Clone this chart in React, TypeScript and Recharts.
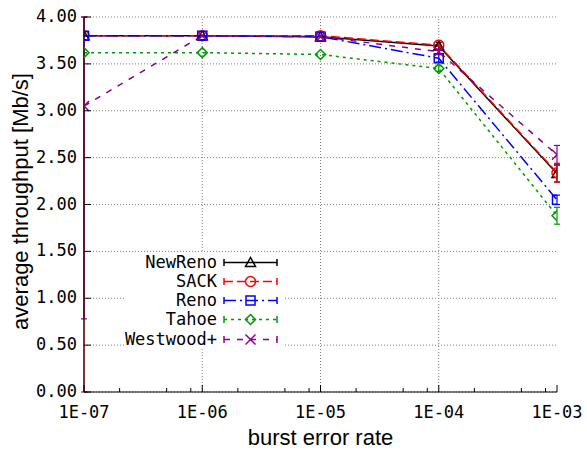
import React from 'react';
import { LineChart, Line, XAxis, YAxis, CartesianGrid, ReferenceLine, ErrorBar, Legend } from 'recharts';

// burst error rates (log x axis)
const rates = [1e-7, 1e-6, 1e-5, 1e-4, 1e-3];
const rateLabels = ['1E-07', '1E-06', '1E-05', '1E-04', '1E-03'];
const minorTicks = [2e-7, 5e-7, 8e-7, 2e-6, 5e-6, 8e-6, 2e-5, 5e-5, 8e-5, 2e-4, 5e-4, 8e-4];
const yTicks = [0, 0.5, 1, 1.5, 2, 2.5, 3, 3.5, 4];

// average throughput [Mb/s]
const newReno = [3.8, 3.8, 3.79, 3.69, 2.33];
const sack = [3.8, 3.8, 3.8, 3.7, 2.34];
const reno = [3.8, 3.8, 3.79, 3.56, 2.05];
const tahoe = [3.62, 3.62, 3.6, 3.45, 1.88];
const westwood = [3.05, 3.8, 3.79, 3.63, 2.53];

// error bars as [below, above]
const newRenoErr = [null, null, null, [0.04, 0.04], [0.09, 0.09]];
const sackErr = [[3.8, 0.2], null, null, [0.05, 0.05], [0.1, 0.1]];
const renoErr = [null, null, null, [0.04, 0.04], [0.05, 0.05]];
const tahoeErr = [null, null, null, [0.03, 0.03], [0.09, 0.09]];
const westwoodErr = [[2.27, 0.95], null, null, [0.03, 0.03], [0.1, 0.1]];

const data = rates.map((rate, i) => ({
  rate,
  newReno: newReno[i],
  sack: sack[i],
  reno: reno[i],
  tahoe: tahoe[i],
  westwood: westwood[i],
  newRenoErr: newRenoErr[i] ?? undefined,
  sackErr: sackErr[i] ?? undefined,
  renoErr: renoErr[i] ?? undefined,
  tahoeErr: tahoeErr[i] ?? undefined,
  westwoodErr: westwoodErr[i] ?? undefined,
}));

const series = [
  { key: 'newReno', name: 'NewReno', color: '#000000', dash: undefined, shape: 'triangle' },
  { key: 'sack', name: 'SACK', color: '#ff0000', dash: '9 4', shape: 'circle' },
  { key: 'reno', name: 'Reno', color: '#0000ff', dash: '12 4 2 4', shape: 'square' },
  { key: 'tahoe', name: 'Tahoe', color: '#009900', dash: '3 4', shape: 'diamond' },
  { key: 'westwood', name: 'Westwood+', color: '#8b008b', dash: '6 7', shape: 'cross' },
];

const MONO = '"DejaVu Sans Mono", monospace';
const SANS = '"Liberation Sans", Arial, sans-serif';
const GRID = '#808080';
const MONO_SIZE = 17;

const markerShape = (shape: string, cx: number, cy: number, color: string) => {
  const common = { fill: 'none', stroke: color, strokeWidth: 1.5 };
  switch (shape) {
    case 'triangle':
      return <polygon points={`${cx},${cy - 5} ${cx - 5},${cy + 4} ${cx + 5},${cy + 4}`} {...common} />;
    case 'circle':
      return <circle cx={cx} cy={cy} r={5} {...common} />;
    case 'square':
      return <rect x={cx - 4.5} y={cy - 4.5} width={9} height={9} {...common} />;
    case 'diamond':
      return <polygon points={`${cx},${cy - 5} ${cx + 5},${cy} ${cx},${cy + 5} ${cx - 5},${cy}`} {...common} />;
    default:
      return (
        <g {...common}>
          <line x1={cx - 5} y1={cy - 5} x2={cx + 5} y2={cy + 5} />
          <line x1={cx - 5} y1={cy + 5} x2={cx + 5} y2={cy - 5} />
        </g>
      );
  }
};

const makeDot = (shape: string, color: string) => (props: any) => {
  const { cx, cy, index } = props;
  if (cx == null || cy == null) return <g key={`${shape}-${index}`} />;
  return <g key={`${shape}-${index}`}>{markerShape(shape, cx, cy, color)}</g>;
};

const isMajor = (v: number) => rates.some((r) => Math.abs(r - v) / r < 1e-6);

const BottomTick = (props: any) => {
  const { x, y, payload } = props;
  const idx = rates.findIndex((r) => Math.abs(r - payload.value) / r < 1e-6);
  const major = idx >= 0;
  return (
    <g>
      <line x1={x} x2={x} y1={y} y2={y - (major ? 7 : 4)} stroke="#000" />
      {major && (
        <text x={x} y={y + 26} textAnchor="middle" fontFamily={MONO} fontSize={MONO_SIZE} fill="#000">
          {rateLabels[idx]}
        </text>
      )}
    </g>
  );
};

const TopTick = (props: any) => {
  const { x, y, payload } = props;
  return <line x1={x} x2={x} y1={y} y2={y + (isMajor(payload.value) ? 7 : 4)} stroke="#000" />;
};

const LeftTick = (props: any) => {
  const { x, y, payload } = props;
  return (
    <g>
      <line x1={x} x2={x + 7} y1={y} y2={y} stroke="#000" />
      <text x={x - 7} y={y + 5} textAnchor="end" fontFamily={MONO} fontSize={MONO_SIZE} fill="#000">
        {payload.value.toFixed(2)}
      </text>
    </g>
  );
};

const RightTick = (props: any) => {
  const { x, y } = props;
  return <line x1={x} x2={x - 7} y1={y} y2={y} stroke="#000" />;
};

const LegendBox = () => (
  <div style={{ background: '#fff', width: 160, height: 97, position: 'relative', fontFamily: MONO, fontSize: MONO_SIZE, color: '#000' }}>
    {series.map((s, i) => (
      <div
        key={s.key}
        style={{ position: 'absolute', left: 0, top: 10 + i * 19.3 - 9.5, height: 19, display: 'flex', alignItems: 'center' }}
      >
        <span style={{ width: 93, textAlign: 'right', lineHeight: '19px' }}>{s.name}</span>
        <svg width={56} height={19} style={{ marginLeft: 6, display: 'block' }}>
          <line x1={1} x2={54} y1={9.5} y2={9.5} stroke={s.color} strokeWidth={1.5} strokeDasharray={s.dash} />
          <line x1={1} x2={1} y1={6} y2={13} stroke={s.color} strokeWidth={1.5} />
          <line x1={54} x2={54} y1={6} y2={13} stroke={s.color} strokeWidth={1.5} />
          {markerShape(s.shape, 27.5, 9.5, s.color)}
        </svg>
      </div>
    ))}
  </div>
);

export default function App() {
  return (
    <div style={{ position: 'absolute', left: 0, top: 0, background: '#fff' }}>
      <LineChart width={587} height={450} data={data} margin={{ top: 17, right: 30, bottom: 0, left: 0 }}>
        <CartesianGrid vertical={false} stroke={GRID} strokeDasharray="1 2" />
        {rates.slice(1, -1).map((r) => (
          <ReferenceLine key={r} x={r} stroke={GRID} strokeDasharray="1 2" />
        ))}
        <XAxis
          dataKey="rate"
          type="number"
          scale="log"
          domain={[1e-7, 1e-3]}
          allowDataOverflow
          ticks={[...rates, ...minorTicks].sort((a, b) => a - b)}
          interval={0}
          tick={<BottomTick />}
          tickSize={0}
          tickMargin={0}
          tickLine={false}
          height={58}
          axisLine={{ stroke: '#000' }}
          label={{
            content: (p: any) => (
              <text x={p.viewBox.x + p.viewBox.width / 2} y={p.viewBox.y + 53} textAnchor="middle" fontFamily={SANS} fontSize={22} fill="#000">
                burst error rate
              </text>
            ),
          }}
        />
        <XAxis
          xAxisId="top"
          orientation="top"
          dataKey="rate"
          type="number"
          scale="log"
          domain={[1e-7, 1e-3]}
          allowDataOverflow
          ticks={[...rates, ...minorTicks].sort((a, b) => a - b)}
          interval={0}
          tick={<TopTick />}
          tickSize={0}
          tickMargin={0}
          tickLine={false}
          height={0}
          axisLine={{ stroke: '#000' }}
        />
        <YAxis
          type="number"
          domain={[0, 4]}
          allowDataOverflow
          ticks={yTicks}
          interval={0}
          tick={<LeftTick />}
          tickSize={0}
          tickMargin={0}
          tickLine={false}
          width={84}
          axisLine={{ stroke: '#000' }}
          label={{
            content: (p: any) => {
              const cx = 28;
              const cy = p.viewBox.y + p.viewBox.height / 2 - 3;
              return (
                <text x={cx} y={cy} transform={`rotate(-90, ${cx}, ${cy})`} textAnchor="middle" fontFamily={SANS} fontSize={22} fill="#000">
                  average throughput [Mb/s]
                </text>
              );
            },
          }}
        />
        <YAxis
          yAxisId="right"
          orientation="right"
          type="number"
          domain={[0, 4]}
          allowDataOverflow
          ticks={yTicks}
          interval={0}
          tick={<RightTick />}
          tickSize={0}
          tickMargin={0}
          tickLine={false}
          width={0}
          axisLine={{ stroke: '#000' }}
        />
        {series.map((s) => (
          <Line
            key={s.key}
            type="linear"
            dataKey={s.key}
            name={s.name}
            stroke={s.color}
            strokeWidth={1.5}
            strokeDasharray={s.dash}
            dot={makeDot(s.shape, s.color)}
            activeDot={false}
            isAnimationActive={false}
          >
            <ErrorBar dataKey={`${s.key}Err`} direction="y" width={3} stroke={s.color} strokeWidth={1.2} isAnimationActive={false} />
          </Line>
        ))}
        <Legend
          layout="vertical"
          align="center"
          verticalAlign="middle"
          wrapperStyle={{ left: 124, top: 252, width: 160, height: 97 }}
          content={() => <LegendBox />}
        />
      </LineChart>
    </div>
  );
}
